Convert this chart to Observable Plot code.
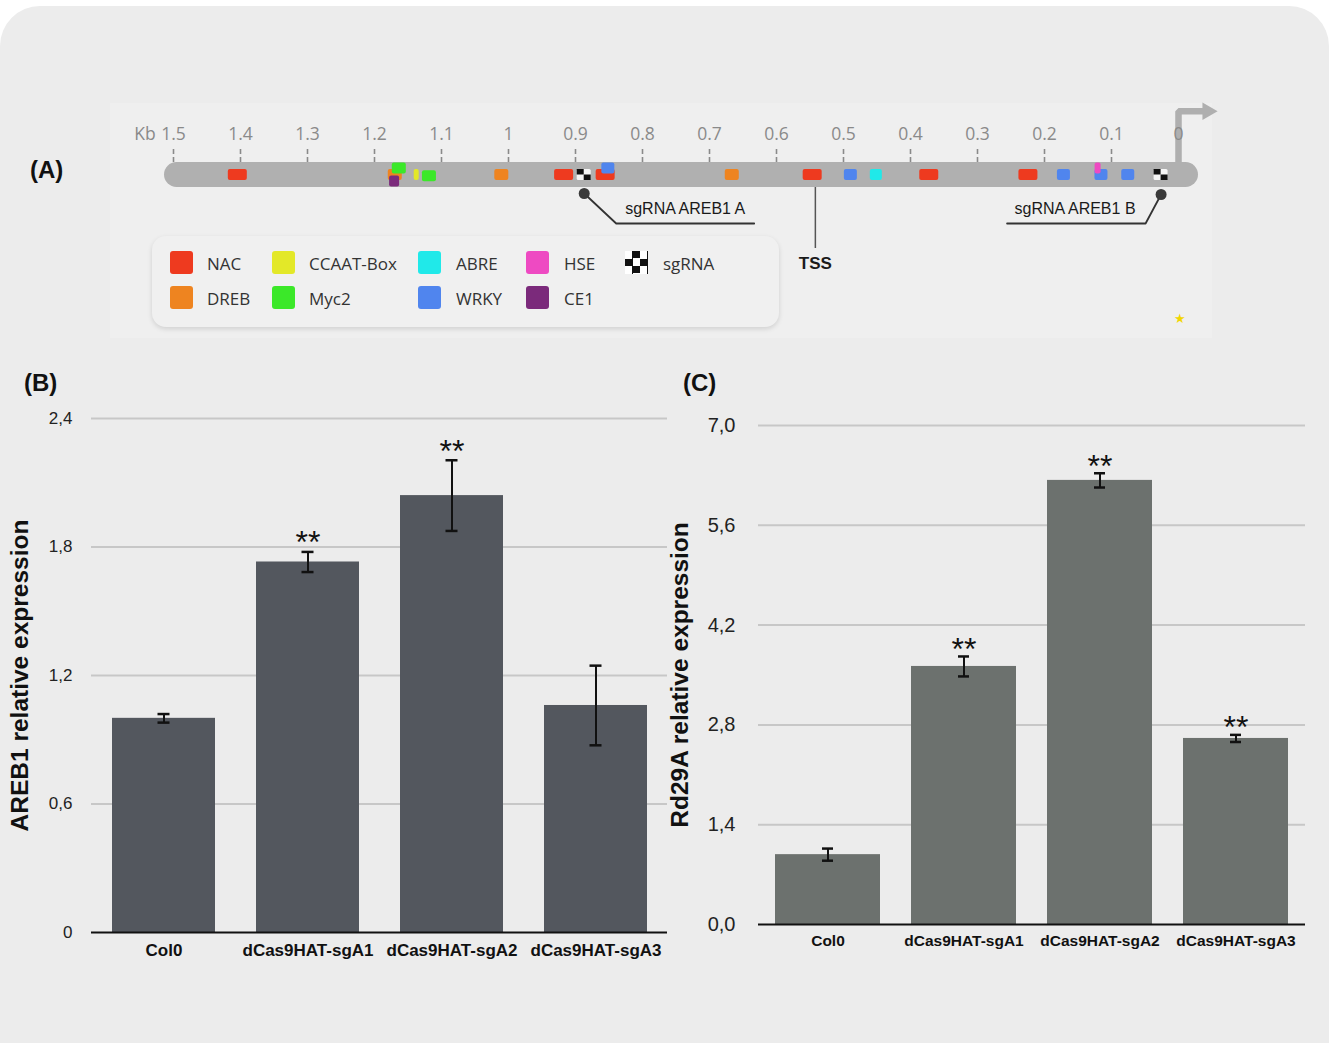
<!DOCTYPE html>
<html><head><meta charset="utf-8">
<script src="https://cdn.jsdelivr.net/npm/d3@7"></script>
<script src="https://cdn.jsdelivr.net/npm/@observablehq/plot@0.6"></script>
<style>
body{margin:0;background:#fff;}
#root{position:relative;width:1329px;height:1043px;overflow:hidden;font-family:"Liberation Sans",Arial,sans-serif;}
.card{position:absolute;left:0;top:6px;width:1329px;height:1100px;background:#ececec;border-radius:40px;}
.inner{position:absolute;left:110px;top:103px;width:1102px;height:235px;background:#efefef;}
.plot{position:absolute;}
.plabel{position:absolute;font-weight:bold;font-size:24px;color:#111;line-height:1;transform:translateY(-50%);}
.legend{position:absolute;left:152px;top:236px;width:627px;height:91px;background:#f0f0f0;border-radius:14px;box-shadow:0 2px 5px rgba(0,0,0,0.13);font-family:"Open Sans",sans-serif;font-size:17px;color:#333;}
.sw{position:absolute;width:23px;height:23px;border-radius:3px;}
.lt{position:absolute;line-height:1;transform:translateY(-50%);}
.star{position:absolute;left:1174px;top:311px;color:#f2d600;font-size:13px;}
</style></head>
<body><div id="root">
<div class="card"></div>
<div class="inner"></div>
<div class="plabel" style="left:30px;top:170px">(A)</div>
<div class="plabel" style="left:24px;top:383px">(B)</div>
<div class="plabel" style="left:683px;top:383px">(C)</div>
<div id="pa" class="plot" style="left:0;top:95px"></div>
<div id="legend" class="legend"></div>
<div class="star">★</div>
<div id="pb" class="plot" style="left:0;top:400px"></div>
<div id="pc" class="plot" style="left:660px;top:400px"></div>
</div>
<script>
// ---------- Panel A data ----------
const kbTicks = [1.5,1.4,1.3,1.2,1.1,1,0.9,0.8,0.7,0.6,0.5,0.4,0.3,0.2,0.1,0];
const kbTickLabels = ["1.5","1.4","1.3","1.2","1.1","1","0.9","0.8","0.7","0.6","0.5","0.4","0.3","0.2","0.1","0"];
const promoterStart = 1.5;
const promoterEnd = 0;
const tssKb = 0.542;
const motifTypes = ["NAC","DREB","CCAAT-Box","Myc2","ABRE","WRKY","HSE","CE1","sgRNA"];
const motifColors = ["#ee3a1f","#ee8420","#e3e828","#3be829","#20e9e9","#5085ee","#ee4ac2","#7b2a7b","#111111"];
const motifKb   = [1.404,1.169,1.163,1.170,1.137,1.118,1.010,0.917,0.887,0.855,0.851,0.666,0.546,0.489,0.451,0.372,0.224,0.171,0.115,0.120,0.075,0.026];
const motifType = ["NAC","DREB","Myc2","CE1","CCAAT-Box","Myc2","DREB","NAC","sgRNA","NAC","WRKY","DREB","NAC","WRKY","ABRE","NAC","NAC","WRKY","WRKY","HSE","WRKY","sgRNA"];
const motifLane = [0,0,1,-1,0,-0.2,0,0,0,0,1,0,0,0,0,0,0,0,0,1,0,0];
const sgRNANames = ["sgRNA AREB1 A","sgRNA AREB1 B"];
const legendRow1 = ["NAC","CCAAT-Box","ABRE","HSE","sgRNA"];
const legendRow2 = ["DREB","Myc2","WRKY","CE1"];

// ---------- Panels B, C data ----------
const categories = ["Col0","dCas9HAT-sgA1","dCas9HAT-sgA2","dCas9HAT-sgA3"];
const areb1Mean = [1.00, 1.73, 2.04, 1.06];
const areb1Err  = [0.02, 0.047, 0.165, 0.186];
const areb1Sig  = ["", "**", "**", ""];
const areb1Ticks = [0, 0.6, 1.2, 1.8, 2.4];
const areb1TickLabels = ["0","0,6","1,2","1,8","2,4"];
const rd29aMean = [0.98, 3.62, 6.23, 2.61];
const rd29aErr  = [0.085, 0.14, 0.10, 0.05];
const rd29aSig  = ["", "**", "**", "**"];
const rd29aTicks = [0, 1.4, 2.8, 4.2, 5.6, 7.0];
const rd29aTickLabels = ["0,0","1,4","2,8","4,2","5,6","7,0"];

// ---------- styles ----------
const colorOf = Object.fromEntries(motifTypes.map((t,i)=>[t, motifColors[i]]));
const widthPx = {"NAC":19,"DREB":14,"Myc2":14,"CE1":10,"CCAAT-Box":5,"WRKY":13,"ABRE":12,"HSE":6,"sgRNA":14};
const pxPerKb = (1178-173)/1.5;
const halfH = 0.44, laneStep = 0.52;

const motifs = motifKb.map((kb,i)=>({kb, type: motifType[i], lane: motifLane[i]*laneStep, hw: widthPx[motifType[i]]/2/pxPerKb}));
const sgs = motifs.filter(d=>d.type==="sgRNA");
const normal = motifs.filter(d=>d.type!=="sgRNA");
const sgA = sgs[0].kb, sgB = sgs[1].kb;
const px = p => p/pxPerKb;
const calloutA = [{x:sgA,y:-1.48},{x:sgA-px(32),y:-3.88},{x:sgA-px(170),y:-3.88}];
const calloutB = [{x:sgB,y:-1.56},{x:sgB+px(15.5),y:-3.88},{x:sgB+px(154),y:-3.88}];
const calloutLabels = [{x:sgA-px(101),t:sgRNANames[0]},{x:sgB+px(86),t:sgRNANames[1]}];
const arrowPts = [{x:promoterEnd,y:1},{x:promoterEnd,y:5.1},{x:promoterEnd-px(26),y:5.1}];

const plotA = Plot.plot({
  width:1329, height:250, marginLeft:173, marginRight:151, marginTop:0, marginBottom:0,
  style:{background:"none", overflow:"visible"},
  x:{domain:[1.5,0], axis:null},
  y:{domain:[-1,1], range:[92,67], axis:null},
  marks:[
    Plot.ruleX(kbTicks, {x:d=>d, y1:1, y2:2.12, stroke:"#8a8a8a", strokeWidth:1.6, strokeDasharray:"5,3"}),
    Plot.line(arrowPts, {x:"x", y:"y", stroke:"#afafaf", strokeWidth:6.5, strokeLinejoin:"miter"}),
    Plot.dot([arrowPts[2]], {x:"x", y:"y", symbol:"triangle", rotate:90, r:6.5, fill:"#afafaf", dx:3}),
    Plot.rect([{s:promoterStart,e:promoterEnd}], {x1:"s", x2:"e", y1:-1, y2:1, fill:"#b0b0b0", rx:12.5, insetLeft:-9, insetRight:-20}),
    Plot.text(kbTicks, {x:d=>d, y:3.24, text:d=>kbTickLabels[kbTicks.indexOf(d)], fontSize:17.5, fill:"#8a8a8a", fontFamily:"Open Sans"}),
    Plot.text(["Kb"], {x:1.5, y:3.24, dx:-28.5, text:d=>d, fontSize:17.5, fill:"#8a8a8a", fontFamily:"Open Sans"}),
    Plot.rect(normal, {x1:d=>d.kb+d.hw, x2:d=>d.kb-d.hw, y1:d=>d.lane-halfH, y2:d=>d.lane+halfH, fill:d=>colorOf[d.type], rx:2}),
    Plot.rect(sgs, {x1:d=>d.kb+d.hw, x2:d=>d.kb-d.hw, y1:d=>d.lane-halfH, y2:d=>d.lane+halfH, fill:"#f6f6f6", rx:1.5}),
    Plot.rect(sgs, {x1:d=>d.kb+d.hw, x2:d=>d.kb, y1:d=>d.lane, y2:d=>d.lane+halfH, fill:"#111"}),
    Plot.rect(sgs, {x1:d=>d.kb, x2:d=>d.kb-d.hw, y1:d=>d.lane-halfH, y2:d=>d.lane, fill:"#111"}),
    Plot.line(calloutA, {x:"x", y:"y", stroke:"#333", strokeWidth:1.8}),
    Plot.line(calloutB, {x:"x", y:"y", stroke:"#333", strokeWidth:1.8}),
    Plot.dot([calloutA[0], calloutB[0]], {x:"x", y:"y", r:5.5, fill:"#3a3a3a"}),
    Plot.text(calloutLabels, {x:"x", y:-2.68, text:"t", fontSize:16, fill:"#1a1a1a", fontFamily:"Liberation Sans, Arial, sans-serif"}),
    Plot.ruleX([tssKb], {x:d=>d, y1:-1, y2:-5.88, stroke:"#555", strokeWidth:1.5}),
    Plot.text(["TSS"], {x:tssKb, y:-7.08, text:d=>d, fontSize:17, fontWeight:"bold", fill:"#1a1a1a", fontFamily:"Liberation Sans, Arial, sans-serif"})
  ]
});
document.getElementById("pa").appendChild(plotA);

// legend
const leg = document.getElementById("legend");
const colX = [[18,55],[120,157],[266,304],[374,412],[473,511]];
function addItem(name, col, rowTop){
  const sw = document.createElement("div");
  sw.className = "sw";
  sw.style.left = colX[col][0]+"px"; sw.style.top = rowTop+"px";
  if (name==="sgRNA") {
    sw.style.background = "repeating-conic-gradient(#111 0% 25%, #fff 0% 50%) 0 0/15px 15px";
    sw.style.borderRadius = "0";
  } else sw.style.background = colorOf[name];
  leg.appendChild(sw);
  const t = document.createElement("div");
  t.className = "lt"; t.textContent = name;
  t.style.left = colX[col][1]+"px"; t.style.top = (rowTop+12)+"px";
  leg.appendChild(t);
}
legendRow1.forEach((n,i)=>addItem(n, i, 15));
legendRow2.forEach((n,i)=>addItem(n, i, 50));

// bar panels
function barPanel(o){
  const data = categories.map((c,i)=>({c, v:o.mean[i], e:o.err[i], s:o.sig[i]}));
  const capInset = o.capInset;
  return Plot.plot({
    width:o.width, height:o.height, marginTop:o.mt, marginBottom:o.mb, marginLeft:o.ml, marginRight:o.mr,
    style:{background:"none", overflow:"visible", fontFamily:"Liberation Sans, Arial, sans-serif", color:"#111"},
    x:{domain:categories, paddingInner:o.pi, paddingOuter:o.po, axis:null},
    y:{domain:[0,o.yMax], axis:null},
    marks:[
      Plot.ruleY(o.ticks.slice(1), {y:d=>d, stroke:"#c7c7c7", strokeWidth:2}),
      Plot.barY(data, {x:"c", y:"v", fill:o.fill}),
      Plot.ruleY([0], {y:d=>d, stroke:"#111", strokeWidth:2}),
      Plot.ruleX(data, {x:"c", y1:d=>d.v-d.e, y2:d=>d.v+d.e, stroke:"#111", strokeWidth:2}),
      Plot.tickY(data, {x:"c", y:d=>d.v+d.e, stroke:"#111", strokeWidth:2.5, insetLeft:capInset, insetRight:capInset}),
      Plot.tickY(data, {x:"c", y:d=>d.v-d.e, stroke:"#111", strokeWidth:2.5, insetLeft:capInset, insetRight:capInset}),
      Plot.text(data, {x:"c", y:d=>d.v+d.e, text:"s", lineAnchor:"middle", dy:o.starDy, fontSize:32, fill:"#111"}),
      Plot.text(o.ticks, {y:d=>d, text:d=>o.tickLabels[o.ticks.indexOf(d)], frameAnchor:"left", textAnchor:"end", dx:-o.tickPad, fontSize:o.tickFont, fill:"#222"}),
      Plot.text(categories, {x:d=>d, text:d=>d, frameAnchor:"bottom", lineAnchor:"middle", dy:o.xDy, fontSize:o.xFont, fontWeight:"bold", fill:"#111"}),
      Plot.text([o.yLabel], {frameAnchor:"left", text:d=>d, rotate:-90, textAnchor:"middle", lineAnchor:"middle", dx:o.labelDx, fontSize:24.5, fontWeight:"bold", fill:"#111"})
    ]
  });
}

document.getElementById("pb").appendChild(barPanel({
  mean:areb1Mean, err:areb1Err, sig:areb1Sig, ticks:areb1Ticks, tickLabels:areb1TickLabels, yMax:2.4,
  fill:"#53575e", width:680, height:570, mt:18, mb:38, ml:91, mr:13, pi:0.285, po:0.1425,
  yLabel:"AREB1 relative expression", tickFont:17, tickPad:19, xFont:17, xDy:18, labelDx:-71, capInset:45.5, starDy:-9
}));
document.getElementById("pc").appendChild(barPanel({
  mean:rd29aMean, err:rd29aErr, sig:rd29aSig, ticks:rd29aTicks, tickLabels:rd29aTickLabels, yMax:7,
  fill:"#6c716e", width:669, height:570, mt:25, mb:46, ml:98, mr:24, pi:0.226, po:0.11,
  yLabel:"Rd29A relative expression", tickFont:20, tickPad:23, xFont:15.5, xDy:17, labelDx:-78, capInset:47, starDy:-7
}));
</script>
</body></html>
